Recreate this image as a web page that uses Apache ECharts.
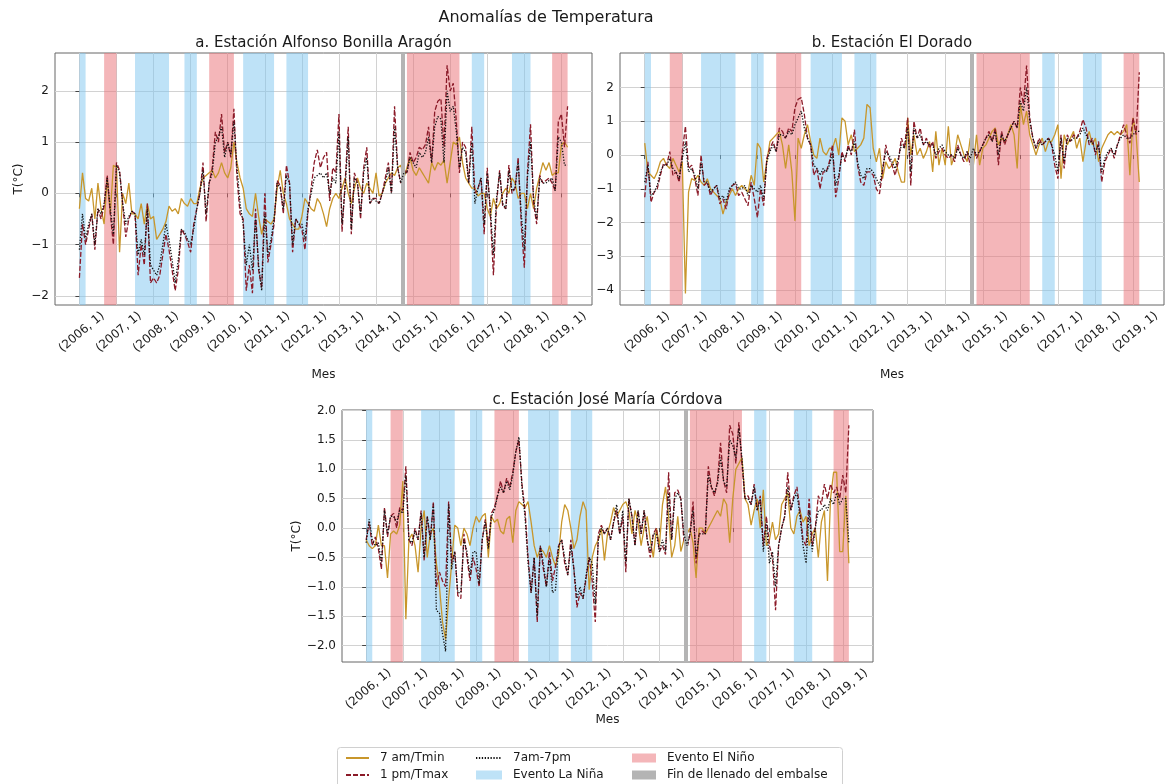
<!DOCTYPE html>
<html>
<head>
<meta charset="utf-8">
<script src="https://cdn.jsdelivr.net/npm/echarts@6/dist/echarts.min.js"></script>
<style>
  html, body { margin: 0; padding: 0; background: #fff; }
  #chart { width: 1165px; height: 784px; }
</style>
</head>
<body>
<div id="chart"></div>
<script>
// meses desde enero 2006 (indice 0) hasta marzo 2019 (indice 158)
const tickMonths = [0, 12, 24, 36, 48, 60, 72, 84, 96, 108, 120, 132, 144, 156];
const tickLabels = ['(2006, 1)', '(2007, 1)', '(2008, 1)', '(2009, 1)', '(2010, 1)', '(2011, 1)', '(2012, 1)',
  '(2013, 1)', '(2014, 1)', '(2015, 1)', '(2016, 1)', '(2017, 1)', '(2018, 1)', '(2019, 1)'];

// eventos ENSO (indice de mes inicio, fin)
const laNina = [[0, 2], [18, 29], [34, 38], [53, 63], [67, 74], [127, 131], [140, 146]];
const elNino = [[8, 12], [42, 50], [106, 123], [153, 158]];
const llenado = [104.5];

// a. Alfonso Bonilla Aragon
const aTmin = [
  -0.3, 0.4, -0.1, -0.15, 0.1, -0.5, 0.2, -0.3, -0.6, 0.3, -0.4, 0.55,
  0.5, -1.15, 0.0, -0.2, 0.2, -0.4, -0.4, -0.5, -0.2, -0.6, -0.2, -0.5,
  -0.45, -0.9, -0.8, -0.7, -0.55, -0.25, -0.35, -0.3, -0.4, -0.1, -0.2, -0.25,
  -0.1, -0.2, -0.2, 0.1, 0.3, 0.35, 0.4, 0.45, 0.3, 0.4, 0.6, 0.4,
  0.3, 0.5, 1.0, 0.6, 0.3, 0.1, -0.3, -0.4, -0.45, 0.0, -0.45, -0.8,
  -0.5, -0.55, -0.6, -0.5, 0.1, 0.45, 0.0, -0.2, -0.5, -0.6, -0.7, -0.7,
  -0.45, -0.1, -0.2, -0.3, -0.35, -0.1, -0.2, -0.4, -0.65, -0.3, -0.1, 0.0,
  -0.1, 0.1, 0.3, 0.0, -0.2, 0.1, 0.3, 0.1, 0.0, 0.2, 0.1, 0.0,
  0.4, -0.05, 0.0, 0.2, 0.3, 0.4, 0.35, 0.5, 0.55, 0.3, 0.5, 0.7,
  0.45, 0.35, 0.5, 0.4, 0.3, 0.2, 0.6, 0.45, 0.6, 0.55, 0.65, 0.2,
  0.6, 1.0, 0.95, 1.1, 0.6, 0.3, 0.2, 0.1, 0.1, -0.05, 0.0, 0.0,
  -0.3, -0.45, -0.1, -0.3, -0.2, 0.0, 0.1, 0.0, 0.3, 0.2, -0.1, 0.0,
  0.0, -0.3, 0.0, -0.3, 0.1, 0.35, 0.6, 0.45, 0.6, 0.35, 0.4, 0.4,
  0.95, 1.0, 0.9
];
const aTmax = [
  -1.65, -0.6, -1.0, -0.7, -0.4, -1.1, -0.3, -0.5, -0.25, 0.35, -0.4, -1.0,
  0.6, 0.45, -0.2, -0.85, -0.5, -0.35, -0.4, -1.6, -1.0, -1.4, -0.2, -1.75,
  -1.65, -1.75, -1.6, -1.2, -0.8, -1.1, -1.5, -1.9, -1.5, -0.7, -0.8, -0.95,
  -1.15, -0.6, -0.3, 0.0, 0.6, -0.55, 0.2, 0.5, 1.2, 1.0, 1.55, 0.8,
  1.0, 0.7, 1.65, 0.3, -0.4, -0.5, -1.9, -1.4, -1.95, -0.3, -1.5, -1.85,
  0.0, -1.35, -1.0, -0.6, 0.25, 0.15, -0.4, 0.55, 0.2, -1.15, -0.5, -0.6,
  -0.7, -1.1, -0.35, 0.1, 0.6, 0.85, 0.5, 0.7, 0.8, -0.15, 0.5, 0.4,
  1.55, -0.75, 0.2, 1.3, -0.8, 0.4, 0.2, -0.5, 0.5, 0.9, -0.2, -0.1,
  -0.1, -0.2, 0.0, 0.3, 0.6, 0.0, 1.7, 0.5, 0.2, 0.5, 0.4, 0.8,
  0.6, 0.7, 0.9, 0.85, 0.95, 1.3, 0.6, 1.6, 1.8, 1.85, 0.9, 2.5,
  2.0, 2.15, 1.4, 0.4, 1.0, 0.9, 0.2, 1.3, 0.0, 0.1, 0.3, -0.8,
  0.5, -0.4, -1.6, -0.2, 0.45, -0.25, -0.3, 0.55, 0.0, 0.1, 0.7, -0.6,
  -1.45, 0.4, 1.35, -0.2, -0.6, 0.35, 0.2, 0.25, 0.3, 0.2, 0.05, 1.4,
  1.55, 0.9, 1.7
];
const aMedia = [
  -1.1, -0.4, -0.9, -0.6, -0.4, -1.0, -0.3, -0.4, -0.2, 0.3, -0.3, -0.8,
  0.55, 0.4, -0.2, -0.6, -0.45, -0.35, -0.4, -1.2, -0.9, -1.2, -0.3, -1.4,
  -1.5, -1.6, -1.4, -1.0, -0.6, -0.9, -1.3, -1.75, -1.3, -0.7, -0.75, -0.9,
  -1.0, -0.7, -0.3, 0.0, 0.45, -0.4, 0.2, 0.4, 1.0, 1.1, 1.3, 0.7,
  1.0, 0.75, 1.4, 0.5, -0.2, -0.6, -1.4, -1.0, -1.5, -0.5, -1.4, -1.9,
  -0.4, -1.2, -0.9, -0.5, 0.2, 0.1, -0.3, 0.35, 0.2, -1.0, -0.5, -0.6,
  -0.6, -0.9, -0.3, 0.0, 0.3, 0.35, 0.4, 0.3, 0.4, 0.0, 0.3, 0.2,
  1.2, -0.6, 0.1, 1.1, -0.7, 0.3, 0.2, -0.4, 0.4, 0.7, -0.2, -0.1,
  -0.15, -0.2, 0.0, 0.2, 0.5, 0.0, 1.3, 0.5, 0.2, 0.4, 0.4, 0.7,
  0.6, 0.5, 0.8, 0.7, 0.8, 1.1, 0.6, 1.3, 1.5, 1.45, 0.6, 2.0,
  1.6, 1.7, 1.2, 0.5, 0.9, 0.8, 0.2, 1.0, -0.2, 0.1, 0.3, -0.6,
  0.4, -0.3, -1.2, -0.1, 0.4, -0.2, -0.3, 0.45, 0.05, 0.1, 0.6, -0.4,
  -1.1, 0.3, 1.0, -0.1, -0.5, 0.3, 0.2, 0.2, 0.25, 0.3, 0.05, 1.1,
  1.0, 0.55, 0.55
];

// b. El Dorado
const bTmin = [
  0.35, -0.5, -0.6, -0.7, -0.5, -0.2, -0.1, -0.3, -0.4, -0.1, -0.3, -0.5,
  -0.2, -4.1, -1.1, -0.7, -0.75, -0.6, -0.8, -0.9, -0.7, -1.0, -1.1, -1.2,
  -1.3, -1.75, -1.4, -1.2, -1.0, -1.2, -1.0, -0.9, -1.0, -1.1, -0.6, -0.9,
  0.35, 0.2, -0.8, -0.2, 0.4, 0.5, 0.6, 0.7, 0.3, -0.4, 0.3, -0.5,
  -1.95, 0.5, 0.2, 0.6, 0.9, 0.4, 0.0, -0.1, 0.5, 0.1, 0.0, 0.2,
  0.2, 0.5, 0.0, 1.1, 1.0, 0.3, 0.6, 0.1, 0.2, 0.3, 0.5, 1.5,
  1.4, 0.2, -0.2, 0.2, -0.7, -0.2, -0.4, -0.3, -0.1, -0.5, -0.8, -0.8,
  1.1, 0.0, 0.6, 0.0, 0.2, -0.1, 0.1, 0.4, -0.5, 0.7, -0.3, 0.2,
  -0.3, 0.85, -0.3, 0.0, 0.6, 0.3, 0.0, -0.2, 0.5, -0.3, 0.6, -0.3,
  0.2, 0.3, 0.5, 0.7, 0.8, 0.3, 0.5, 0.4, 0.6, 0.9, 0.6, -0.4,
  1.5, 0.9, 1.3, 0.6, 0.3, 0.0, 0.3, 0.5, 0.1, 0.4, 0.4, 0.6,
  0.9, -0.7, 0.6, 0.3, 0.5, 0.7, 0.2, 0.5, -0.2, 0.4, 0.7, 0.3,
  0.5, -0.2, 0.2, 0.4, 0.6, 0.7, 0.6, 0.7, 0.6, 0.7, 0.9, -0.6,
  1.1, 0.6, -0.8
];
const bTmax = [
  -1.25, -0.2, -1.4, -1.1, -1.0, -0.6, -0.25, -0.3, 0.1, -0.6, -0.5, -0.8,
  0.1, 0.85, -0.4, -0.3, -0.7, -1.2, 0.0, -0.9, -0.8, -1.2, -1.0, -0.9,
  -1.45, -1.3, -1.6, -1.1, -0.9, -0.85, -1.2, -1.1, -1.3, -1.5, -0.8, -1.3,
  -1.85, -1.0, -1.5, -0.1, 0.2, 0.4, 0.1, 0.8, 0.7, 0.5, 0.8, 0.7,
  1.4, 1.65, 1.7, 1.2, 0.5, 0.3, -0.6, -0.4, -1.0, -0.5, -0.5, -0.2,
  0.3, -1.25, -0.7, 0.1, -0.2, 0.3, 0.0, 0.75, -0.3, -0.8, -0.9, -0.5,
  -0.5, -0.6, -1.0, -1.15, -0.5, 0.3, -0.1, -0.3, -0.6, -0.2, 0.5, 0.2,
  1.1, -0.9, 1.0, 0.5, 0.8, 0.3, 0.5, 0.2, 0.4, -0.1, 0.1, 0.2,
  0.0, -0.1, 0.0, -0.2, 0.3, 0.0, -0.2, 0.1, -0.3, 0.2, -0.1, 0.1,
  0.3, 0.5, 0.7, 0.4, 0.8, -0.3, 0.7, 0.3, 0.6, 0.8, 1.0, 0.8,
  2.0, 1.5, 2.65, 1.1, 0.5, 0.2, 0.5, 0.3, 0.4, 0.5, 0.3, -0.3,
  -0.7, 0.6, -0.4, 0.6, 0.4, 0.6, 0.5, 0.7, 1.05, 0.8, 0.3, 0.5,
  0.0, 0.4, -0.8, -0.2, 0.0, 0.2, -0.1, 0.3, 0.6, 0.9, 0.6, 0.35,
  1.1, 0.6, 2.45
];
const bMedia = [
  -0.8, -0.3, -1.2, -1.1, -0.9, -0.5, -0.3, -0.3, -0.1, -0.4, -0.5, -0.7,
  -0.1, 0.4, -0.5, -0.4, -0.6, -1.0, -0.2, -0.8, -0.8, -1.1, -1.0, -0.9,
  -1.3, -1.2, -1.4, -1.0, -0.9, -0.8, -1.0, -1.0, -0.9, -1.2, -0.9, -1.0,
  -1.1, -0.9, -1.3, -0.2, 0.1, 0.3, 0.1, 0.6, 0.6, 0.5, 0.7, 0.6,
  0.9, 1.1, 1.3, 0.8, 0.5, 0.3, -0.3, -0.4, -0.6, -0.4, -0.5, -0.3,
  0.1, -0.9, -0.6, 0.0, -0.1, 0.2, 0.1, 0.4, -0.2, -0.6, -0.7, -0.4,
  -0.4, -0.5, -0.7, -0.9, -0.4, 0.1, 0.0, -0.2, -0.4, -0.1, 0.3, 0.2,
  0.8, -0.5, 0.8, 0.5, 0.6, 0.3, 0.4, 0.3, 0.3, 0.0, 0.2, 0.3,
  0.1, 0.0, 0.0, -0.1, 0.2, 0.0, -0.1, 0.1, -0.1, 0.2, 0.0, 0.1,
  0.3, 0.5, 0.6, 0.4, 0.7, 0.0, 0.6, 0.4, 0.6, 0.8, 1.0, 0.8,
  1.6, 1.3, 2.0, 1.0, 0.5, 0.2, 0.4, 0.3, 0.4, 0.5, 0.3, 0.0,
  -0.5, 0.5, -0.2, 0.5, 0.4, 0.5, 0.5, 0.6, 0.8, 0.6, 0.4, 0.4,
  0.1, 0.3, -0.5, -0.1, 0.1, 0.2, 0.0, 0.3, 0.5, 0.6, 0.5, 0.5,
  0.6, 0.7, 0.7
];

// c. Jose Maria Cordova
const cTmin = [
  -0.2, -0.3, -0.35, -0.3, 0.05, -0.3, -0.3, -0.85, -0.1, -0.05, -0.1, 0.05,
  0.8, -1.55, -0.2, -0.1, -0.3, -0.75, 0.0, 0.3, -0.5, -0.1, 0.0, -0.6,
  -1.0, -1.6, -1.9, -1.2, -0.6, 0.05, 0.0, -0.3, 0.0, -0.1, -0.3, 0.0,
  0.2, 0.1, 0.2, 0.25, -0.5, 0.2, 0.1, 0.15, -0.05, -0.1, 0.15, 0.2,
  -0.25, 0.3, 0.45, 0.4, 0.35, 0.45, 0.1, -0.3, -0.5, -0.35, -0.4, -0.5,
  -0.3, -0.5, -0.65, -0.45, 0.1, 0.4, 0.3, 0.0, -0.35, -0.2, 0.2, 0.45,
  0.3, -1.05, -0.5, -0.3, -0.2, 0.0, -0.55, -0.1, 0.1, 0.35, 0.2, 0.3,
  0.4, 0.45, 0.3, -0.1, 0.3, 0.1, -0.3, 0.0, 0.2, -0.2, -0.5, 0.0,
  -0.3, 0.4, 0.7, 0.2, -0.5, -0.3, 0.2, -0.4, -0.2, -0.1, 0.0, -0.25,
  -0.85, 0.0, 0.0, -0.1, 0.0, 0.1, 0.2, 0.3, 0.2, 0.5, 0.4, -0.25,
  0.5, 1.0, 1.1, 1.2, 0.5, 0.4, 0.05, 0.3, 0.5, 0.0, 0.65, -0.3,
  -0.2, 0.1, -0.2, -0.1, 0.4, 0.5, 0.6, 0.0, -0.1, 0.2, 0.3, 0.1,
  0.2, -0.3, -0.1, 0.0, -0.5, 0.1, 0.3, -0.9, 0.5, 0.95, 0.95, -0.4,
  -0.4, 0.55, -0.6
];
const cTmax = [
  -0.2, 0.1, -0.3, -0.15, -0.35, -0.7, 0.35, -0.15, 0.2, 0.25, 0.0, 0.35,
  0.3, 1.05, -0.2, -0.3, 0.0, -0.2, 0.3, -0.55, 0.2, -0.2, 0.45, -1.0,
  -0.75, -0.9, -1.0, 0.45, -0.6, -0.4, -1.15, -1.2, -0.1, -0.5, -0.9, -0.5,
  -0.7, -1.0, -0.2, 0.15, -0.3, 0.25, 0.35, 0.55, 0.8, 0.6, 0.85, 0.7,
  0.95, 1.3, 1.5, 0.75, 0.3, -0.5, -1.1, -0.5, -1.6, -0.3, -0.7, -1.0,
  -0.4, -0.9, -0.65, -0.3, -0.2, -0.6, -0.8, -0.2, -0.7, -1.35, -1.1, -1.2,
  -0.85, -0.5, -0.9, -1.6, -0.1, 0.05, -0.1, 0.0, -0.2, 0.1, 0.3, -0.1,
  0.2, -0.75, 0.5, 0.2, -0.3, 0.3, -0.1, 0.3, -0.2, -0.5, -0.1, 0.0,
  -0.4, -0.3, -0.45, 0.95, -0.2, 0.6, 0.65, 0.5, -0.2, -0.35, -0.1, 0.45,
  -0.6, -0.1, -0.05, -0.1, 1.05, 0.7, 0.55, 0.8, 1.45, 0.8, 0.6, 1.75,
  1.6, 1.1, 1.8, 1.1, 0.5, 0.55, 0.4, 0.75, 0.3, 0.55, -0.3, 0.2,
  -0.3, -0.5, -1.4, -0.3, 0.0, 0.2, 0.95, 0.3, 0.55, 0.7, 0.3, -0.2,
  -0.3, 0.5, -0.3, 0.0, 0.55, 0.4, 0.75, 0.5, 0.75, 0.6, 0.7, 0.5,
  0.9, 0.6, 1.75
];
const cMedia = [
  -0.25, 0.15, -0.2, -0.3, -0.25, -0.6, 0.3, -0.1, 0.2, 0.2, 0.1, 0.3,
  0.25, 0.9, -0.2, -0.25, -0.05, -0.2, 0.25, -0.5, 0.2, -0.2, 0.4, -1.4,
  -1.45, -1.8, -2.1, 0.4, -0.7, -0.4, -1.1, -1.1, -0.2, -0.4, -0.8, -0.4,
  -0.4, -0.95, -0.2, 0.1, -0.35, 0.2, 0.3, 0.55, 0.7, 0.6, 0.8, 0.65,
  0.9, 1.3, 1.55, 0.7, 0.2, -0.6, -1.1, -0.5, -1.5, -0.3, -0.6, -1.0,
  -0.5, -1.1, -1.05, -0.3, -0.2, -0.5, -0.8, -0.3, -0.7, -1.2, -1.0, -1.2,
  -0.8, -0.5, -0.6, -1.3, -0.2, 0.0, -0.1, 0.0, -0.2, 0.1, 0.4, -0.1,
  0.3, -0.6, 0.5, 0.2, -0.3, 0.3, -0.1, 0.3, -0.2, -0.4, -0.1, -0.1,
  -0.4, -0.2, -0.4, 0.6, -0.2, 0.5, 0.6, 0.5, -0.1, -0.3, -0.1, 0.3,
  -0.5, -0.1, -0.1, -0.1, 0.9, 0.7, 0.6, 0.75, 1.2, 0.8, 0.7, 1.5,
  1.4, 1.2, 1.7, 1.2, 0.5, 0.5, 0.4, 0.7, 0.3, 0.5, -0.4, 0.1,
  -0.6, -0.4, -1.0, -0.3, 0.0, 0.2, 0.7, 0.3, 0.5, 0.6, 0.2, -0.3,
  -0.6, 0.3, -0.4, 0.0, 0.3, 0.3, 0.4, 0.3, 0.5, 0.4, 0.6, 0.4,
  0.5, 0.5, -0.25
];

const yTicksA = [-2, -1, 0, 1, 2];
const yTicksB = [-4, -3, -2, -1, 0, 1, 2];
const yTicksC = [-2, -1.5, -1, -0.5, 0, 0.5, 1, 1.5, 2];

const FONT = 'DejaVu Sans';
const TXT = '#1a1a1a';
const C_TMIN = '#c8962b';
const C_TMAX = '#8b1a28';
const C_MEDIA = '#111111';
const C_NINA = 'rgba(125,197,239,0.5)';
const C_NINO = 'rgba(233,109,115,0.5)';
const C_FIN = '#b4b4b4';

const panels = [
  { title: 'a. Estación Alfonso Bonilla Aragón', tmin: aTmin, tmax: aTmax, media: aMedia,
    ticks: yTicksA, ymin: -2.18, ymax: 2.74, dec: 0, yname: 'T(°C)', ygap: 30, xgap: 64,
    grid: { left: 55, top: 53, width: 537, height: 252 } },
  { title: 'b. Estación El Dorado', tmin: bTmin, tmax: bTmax, media: bMedia,
    ticks: yTicksB, ymin: -4.44, ymax: 3.02, dec: 0, yname: '', ygap: 30, xgap: 64,
    grid: { left: 620, top: 53, width: 544, height: 252 } },
  { title: 'c. Estación José María Córdova', tmin: cTmin, tmax: cTmax, media: cMedia,
    ticks: yTicksC, ymin: -2.28, ymax: 2.01, dec: 1, yname: 'T(°C)', ygap: 33, xgap: 42,
    grid: { left: 342, top: 410, width: 531, height: 252 } }
];

const xy = arr => arr.map((v, i) => [i, v]);
const gridLine = { show: true, lineStyle: { color: '#d2d2d2', width: 1 } };

const grids = [], xAxes = [], yAxes = [], series = [], titles = [];

titles.push({ text: 'Anomalías de Temperatura', left: 546, top: 10, textAlign: 'center', padding: 0,
  textStyle: { fontFamily: FONT, fontSize: 16, fontWeight: 'normal', color: TXT } });

panels.forEach((p, k) => {
  grids.push(Object.assign({ show: true, borderColor: '#666', borderWidth: 1, backgroundColor: '#fff' }, p.grid));
  titles.push({ text: p.title, left: p.grid.left + p.grid.width / 2, top: p.grid.top - 17, textAlign: 'center', padding: 0,
    textStyle: { fontFamily: FONT, fontSize: 15, fontWeight: 'normal', color: TXT } });

  xAxes.push({
    type: 'value', gridIndex: k, min: -7.9, max: 165.9,
    name: 'Mes', nameLocation: 'middle', nameGap: p.xgap,
    nameTextStyle: { fontFamily: FONT, fontSize: 12, color: TXT },
    axisLine: { show: false },
    axisTick: { show: true, length: 4, customValues: tickMonths, lineStyle: { color: '#444' } },
    axisLabel: {
      customValues: tickMonths, rotate: 40, align: 'center', verticalAlign: 'middle', margin: 29,
      fontFamily: FONT, fontSize: 12, color: TXT, padding: [0, 0, 0, 6],
      formatter: v => tickLabels[tickMonths.indexOf(v)]
    },
    splitLine: gridLine
  });

  yAxes.push({
    type: 'value', gridIndex: k, min: p.ymin, max: p.ymax,
    name: p.yname, nameLocation: 'middle', nameGap: p.ygap, nameRotate: 90,
    nameTextStyle: { fontFamily: FONT, fontSize: 12, color: TXT },
    axisLine: { show: false },
    axisTick: { show: true, length: 4, customValues: p.ticks, lineStyle: { color: '#444' } },
    axisLabel: {
      customValues: p.ticks, margin: 6, fontFamily: FONT, fontSize: 12, color: TXT,
      formatter: v => v.toFixed(p.dec).replace('-', '\u2212')
    },
    splitLine: gridLine
  });

  series.push({
    name: 'Evento La Niña', type: 'line', xAxisIndex: k, yAxisIndex: k, data: [], z: 1,
    color: C_NINA, itemStyle: { color: C_NINA },
    markArea: { silent: true, itemStyle: { color: C_NINA }, data: laNina.map(r => [{ xAxis: r[0] }, { xAxis: r[1] }]) }
  });
  series.push({
    name: 'Evento El Niño', type: 'line', xAxisIndex: k, yAxisIndex: k, data: [], z: 1,
    color: C_NINO, itemStyle: { color: C_NINO },
    markArea: { silent: true, itemStyle: { color: C_NINO }, data: elNino.map(r => [{ xAxis: r[0] }, { xAxis: r[1] }]) }
  });
  series.push({
    name: 'Fin de llenado del embalse', type: 'line', xAxisIndex: k, yAxisIndex: k, data: [], z: 1,
    color: C_FIN, itemStyle: { color: C_FIN },
    markLine: { silent: true, symbol: ['none', 'none'], label: { show: false },
      lineStyle: { color: C_FIN, width: 4, type: 'solid' }, data: llenado.map(x => ({ xAxis: x })) }
  });
  series.push({
    name: '7 am/Tmin', type: 'line', xAxisIndex: k, yAxisIndex: k, data: xy(p.tmin), z: 3,
    symbol: 'none', color: C_TMIN, lineStyle: { color: C_TMIN, width: 1.3 }
  });
  series.push({
    name: '1 pm/Tmax', type: 'line', xAxisIndex: k, yAxisIndex: k, data: xy(p.tmax), z: 4,
    symbol: 'none', color: C_TMAX, lineStyle: { color: C_TMAX, width: 1.3, type: [5, 2] }
  });
  series.push({
    name: '7am-7pm', type: 'line', xAxisIndex: k, yAxisIndex: k, data: xy(p.media), z: 5,
    symbol: 'none', color: C_MEDIA, lineStyle: { color: C_MEDIA, width: 1.3, type: [1.3, 1.6] }
  });
});

const legendText = { fontFamily: FONT, fontSize: 12, color: TXT, lineHeight: 14, padding: [0, 0, 0, 6] };
const legendBase = { orient: 'vertical', top: 751, itemGap: 3, itemHeight: 9, selectedMode: false, padding: 0, textStyle: legendText };

const option = {
  animation: false,
  backgroundColor: '#fff',
  title: titles,
  grid: grids,
  xAxis: xAxes,
  yAxis: yAxes,
  series: series,
  legend: [
    Object.assign({}, legendBase, { left: 345, itemWidth: 23,
      data: [{ name: '7 am/Tmin', itemStyle: { opacity: 0 } }, { name: '1 pm/Tmax', itemStyle: { opacity: 0 } }] }),
    Object.assign({}, legendBase, { left: 475, itemWidth: 26,
      data: [{ name: '7am-7pm', itemStyle: { opacity: 0 } }, { name: 'Evento La Niña', icon: 'rect' }] }),
    Object.assign({}, legendBase, { left: 632, itemWidth: 24,
      data: [{ name: 'Evento El Niño', icon: 'rect' }, { name: 'Fin de llenado del embalse', icon: 'rect' }] })
  ],
  graphic: [{
    type: 'rect', left: 337, top: 747, z: -1, silent: true,
    shape: { width: 505, height: 42, r: 3 },
    style: { fill: '#fff', stroke: '#d0d0d0', lineWidth: 1 }
  }]
};

const chart = echarts.init(document.getElementById('chart'), null, { renderer: 'canvas' });
chart.setOption(option);
</script>
</body>
</html>
